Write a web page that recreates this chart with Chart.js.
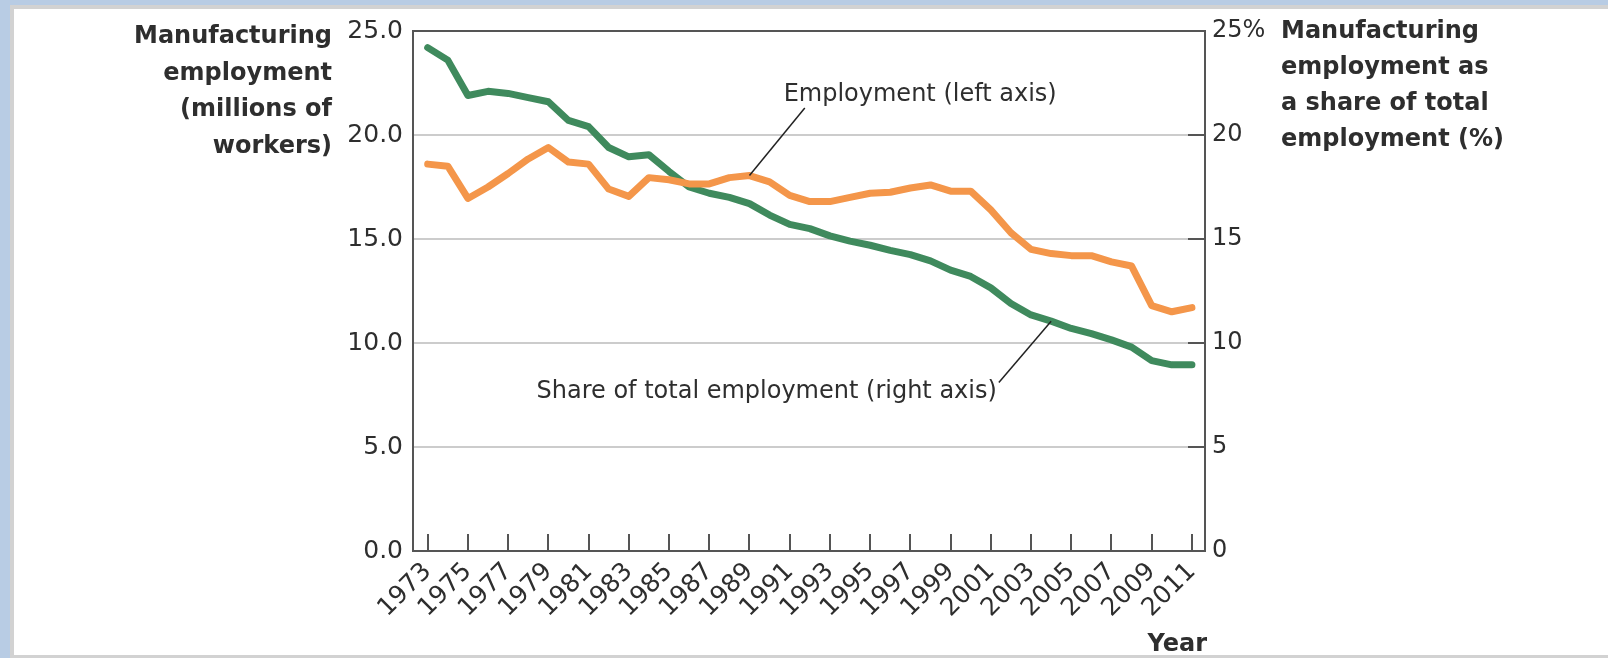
<!DOCTYPE html>
<html>
<head>
<meta charset="utf-8">
<title>Manufacturing employment</title>
<script src="https://cdn.jsdelivr.net/npm/chart.js@4.4.1/dist/chart.umd.min.js"></script>
<style>
  html, body { margin: 0; padding: 0; background: #b8cce4; }
  canvas { display: block; }
</style>
</head>
<body>
<canvas id="mfgChart" width="1608" height="658"></canvas>
<script>
// years on the horizontal axis
const years = [1973, 1974, 1975, 1976, 1977, 1978, 1979, 1980, 1981, 1982,
               1983, 1984, 1985, 1986, 1987, 1988, 1989, 1990, 1991, 1992,
               1993, 1994, 1995, 1996, 1997, 1998, 1999, 2000, 2001, 2002,
               2003, 2004, 2005, 2006, 2007, 2008, 2009, 2010, 2011];

// manufacturing employment, millions of workers (left axis)
const employment = [18.6, 18.5, 16.95, 17.5, 18.15, 18.85, 19.4, 18.7, 18.6, 17.4,
                    17.05, 17.95, 17.85, 17.65, 17.65, 17.95, 18.05, 17.75, 17.1, 16.8,
                    16.8, 17.0, 17.2, 17.25, 17.45, 17.6, 17.3, 17.3, 16.4, 15.3,
                    14.5, 14.3, 14.2, 14.2, 13.9, 13.7, 11.8, 11.5, 11.7];

// manufacturing share of total employment, % (right axis)
const share = [24.2, 23.6, 21.9, 22.1, 22.0, 21.8, 21.6, 20.7, 20.4, 19.4,
               18.95, 19.05, 18.25, 17.5, 17.2, 17.0, 16.7, 16.15, 15.7, 15.5,
               15.15, 14.9, 14.7, 14.45, 14.25, 13.95, 13.5, 13.2, 12.65, 11.9,
               11.35, 11.05, 10.7, 10.45, 10.15, 9.8, 9.15, 8.95, 8.95];

// labelled years under the axis
const tickYears = [1973, 1975, 1977, 1979, 1981, 1983, 1985, 1987, 1989, 1991,
                   1993, 1995, 1997, 1999, 2001, 2003, 2005, 2007, 2009, 2011];

const leftTitle = ['Manufacturing', 'employment', '(millions of', 'workers)'];
const rightTitle = ['Manufacturing', 'employment as', 'a share of total', 'employment (%)'];

const GREEN = '#3f8a5d';
const ORANGE = '#f4964a';
const AXIS = '#555555';
const TEXT = '#2e2e2e';
const FONT = "'DejaVu Sans', sans-serif";

// outer blue frame with grey inner edge and white panel
const framePlugin = {
    id: 'frame',
    beforeDraw(chart) {
        const c = chart.ctx;
        c.save();
        c.fillStyle = '#b8cce4';
        c.fillRect(0, 0, chart.width, chart.height);
        c.fillStyle = '#d2d2d2';
        c.fillRect(10, 5, chart.width - 10, chart.height - 5);
        c.fillStyle = '#ffffff';
        c.fillRect(14, 9, chart.width - 14, 646);
        c.restore();
    }
};

// box top, inward tick marks, axis titles and line callouts
const decorPlugin = {
    id: 'decor',
    afterDraw(chart) {
        const c = chart.ctx;
        const area = chart.chartArea;
        const x = chart.scales.x;
        const yL = chart.scales.y;
        const yR = chart.scales.y1;
        c.save();

        c.strokeStyle = AXIS;
        c.lineWidth = 2;
        c.beginPath();
        c.moveTo(area.left - 1, area.top);
        c.lineTo(area.right + 1, area.top);
        c.stroke();

        c.beginPath();
        tickYears.forEach(yr => {
            const px = Math.round(x.getPixelForValue(yr));
            c.moveTo(px, area.bottom);
            c.lineTo(px, area.bottom - 17);
        });
        [5, 10, 15, 20].forEach(v => {
            const py = Math.round(yR.getPixelForValue(v));
            c.moveTo(area.right, py);
            c.lineTo(area.right - 17, py);
        });
        c.stroke();

        c.fillStyle = TEXT;
        c.font = 'bold 24px ' + FONT;
        c.textBaseline = 'alphabetic';
        c.textAlign = 'right';
        leftTitle.forEach((line, i) => c.fillText(line, 332, 43 + i * 36.5));
        c.textAlign = 'left';
        rightTitle.forEach((line, i) => c.fillText(line, 1281, 38 + i * 36));
        c.textAlign = 'right';
        c.fillText('Year', 1207, 651);

        // callout: employment line
        c.strokeStyle = '#222222';
        c.lineWidth = 1.5;
        const iEmp = years.indexOf(1989);
        c.beginPath();
        c.moveTo(x.getPixelForValue(1989), yL.getPixelForValue(employment[iEmp]));
        c.lineTo(x.getPixelForValue(1991.75), yL.getPixelForValue(21.3));
        c.stroke();

        // callout: share line
        const iShare = years.indexOf(2004);
        c.beginPath();
        c.moveTo(x.getPixelForValue(2004), yR.getPixelForValue(share[iShare]));
        c.lineTo(x.getPixelForValue(2001.4), yR.getPixelForValue(8.1));
        c.stroke();

        c.font = '24px ' + FONT;
        c.fillStyle = TEXT;
        c.textBaseline = 'middle';
        c.textAlign = 'left';
        c.fillText('Employment (left axis)', x.getPixelForValue(1990.7), yL.getPixelForValue(21.95));
        c.textAlign = 'right';
        c.fillText('Share of total employment (right axis)', x.getPixelForValue(2001.3), yR.getPixelForValue(7.65));

        c.restore();
    }
};

const tickFont = { family: FONT, size: 25 };

const ctx = document.getElementById('mfgChart').getContext('2d');
const mfgChart = new Chart(ctx, {
    type: 'line',
    data: {
        datasets: [{
            label: 'Employment (left axis)',
            data: years.map((yr, i) => ({ x: yr, y: employment[i] })),
            yAxisID: 'y',
            borderColor: ORANGE,
            borderWidth: 7,
            borderJoinStyle: 'round',
            borderCapStyle: 'round',
            pointRadius: 0,
            tension: 0
        }, {
            label: 'Share of total employment (right axis)',
            data: years.map((yr, i) => ({ x: yr, y: share[i] })),
            yAxisID: 'y1',
            borderColor: GREEN,
            borderWidth: 7,
            borderJoinStyle: 'round',
            borderCapStyle: 'round',
            pointRadius: 0,
            tension: 0
        }]
    },
    options: {
        responsive: false,
        animation: false,
        layout: { padding: { top: 31, left: 0, right: 0, bottom: 0 } },
        plugins: {
            legend: { display: false },
            tooltip: { enabled: false }
        },
        scales: {
            x: {
                type: 'linear',
                min: 1972.27,
                max: 2011.65,
                afterBuildTicks: scale => {
                    scale.ticks = tickYears.map(v => ({ value: v }));
                },
                afterFit: scale => { scale.height = 107; },
                grid: { display: false, drawTicks: false },
                border: { display: true, color: AXIS, width: 2 },
                ticks: {
                    autoSkip: false,
                    minRotation: 45,
                    maxRotation: 45,
                    padding: 6,
                    color: TEXT,
                    font: tickFont,
                    callback: v => String(v)
                }
            },
            y: {
                position: 'left',
                min: 0,
                max: 25,
                afterFit: scale => { scale.width = 413; },
                grid: {
                    drawTicks: false,
                    lineWidth: 2,
                    color: c => (c.tick && (c.tick.value === 0 || c.tick.value === 25)) ? 'rgba(0,0,0,0)' : '#cccccc'
                },
                border: { display: true, color: AXIS, width: 2 },
                ticks: {
                    stepSize: 5,
                    padding: 10,
                    color: TEXT,
                    font: tickFont,
                    callback: v => v.toFixed(1)
                }
            },
            y1: {
                position: 'right',
                min: 0,
                max: 25,
                afterFit: scale => { scale.width = 403; },
                grid: { display: false, drawTicks: false },
                border: { display: true, color: AXIS, width: 2 },
                ticks: {
                    stepSize: 5,
                    padding: 7,
                    color: TEXT,
                    font: { family: FONT, size: 24 },
                    callback: v => (v === 25 ? '25%' : String(v))
                }
            }
        }
    },
    plugins: [framePlugin, decorPlugin]
});
</script>
</body>
</html>
